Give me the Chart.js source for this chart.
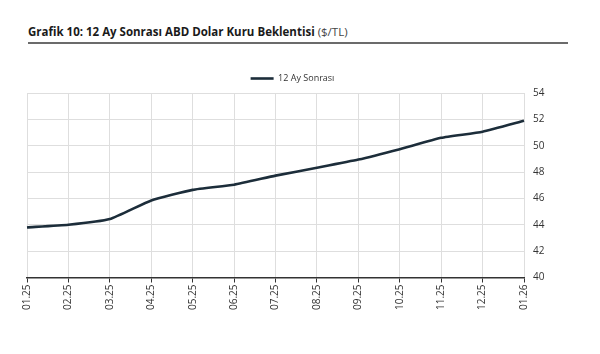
<!DOCTYPE html>
<html>
<head>
<meta charset="utf-8">
<script src="https://cdn.jsdelivr.net/npm/chart.js@4"></script>
<style>
  html, body { margin: 0; padding: 0; background: #fff; }
  body { width: 600px; height: 354px; position: relative; overflow: hidden; font-family: "Open Sans", sans-serif; }
  #title { position: absolute; left: 28px; top: 24px; font-size: 11.5px; color: #1a1a1a; white-space: nowrap; }
  #title b { font-weight: 700; }
  #title span { color: #444; }
  #rule { position: absolute; left: 28px; top: 42px; width: 540px; height: 2px; background: #6b6b6b; }
  #wrap { position: absolute; left: 0; top: 0; width: 600px; height: 354px; }
</style>
</head>
<body>
<div id="title"><b>Grafik 10: 12 Ay Sonrası ABD Dolar Kuru Beklentisi</b> <span>($/TL)</span></div>
<div id="rule"></div>
<div id="wrap"><canvas id="myChart"></canvas></div>
<script>
// months (MM.YY)
const months = ['01.25', '02.25', '03.25', '04.25', '05.25', '06.25', '07.25',
  '08.25', '09.25', '10.25', '11.25', '12.25', '01.26'];

// 12 months ahead USD/TRY expectation
const expectation = [43.8, 44.0, 44.43, 45.85, 46.65, 47.04, 47.73,
  48.33, 48.95, 49.74, 50.6, 51.06, 51.89];

const seriesName = '12 Ay Sonrası';
const yMin = 40;
const yMax = 54;
const yStep = 2;

const lineColor = '#1c2d3a';
const gridColor = '#dedede';
const textColor = '#333333';

const data = {
  labels: months,
  datasets: [
    {
      label: seriesName,
      data: expectation,
      borderColor: lineColor,
      backgroundColor: lineColor,
      borderWidth: 2.6,
      pointRadius: 0,
      pointStyle: 'line',
      tension: 0.15,
    },
  ],
};

const config = {
  type: 'line',
  data: data,
  options: {
    responsive: true,
    maintainAspectRatio: false,
    animation: false,
    layout: {
      padding: { left: 27, right: 42, top: 58, bottom: 42 },
    },
    plugins: {
      legend: {
        display: true,
        position: 'top',
        labels: {
          usePointStyle: true,
          pointStyleWidth: 23,
          font: { family: 'Open Sans', size: 9 },
          color: textColor,
          padding: 16,
        },
      },
      tooltip: { enabled: false },
    },
    scales: {
      x: {
        offset: false,
        grid: {
          color: gridColor,
          tickColor: '#333',
          tickLength: 5,
        },
        border: { color: '#333', width: 1.5 },
        ticks: {
          maxRotation: 90,
          minRotation: 90,
          autoSkip: false,
          color: textColor,
          font: { family: 'Open Sans', size: 10 },
          padding: 2,
        },
      },
      y: {
        position: 'right',
        min: yMin,
        max: yMax,
        grid: { color: gridColor, drawTicks: false },
        border: { display: false },
        ticks: {
          stepSize: yStep,
          color: textColor,
          font: { family: 'Open Sans', size: 10 },
          padding: 9,
        },
        afterFit: function (scale) {
          scale.width = 34;
        },
      },
    },
  },
};

const myChart = new Chart(document.getElementById('myChart'), config);
</script>
</body>
</html>
